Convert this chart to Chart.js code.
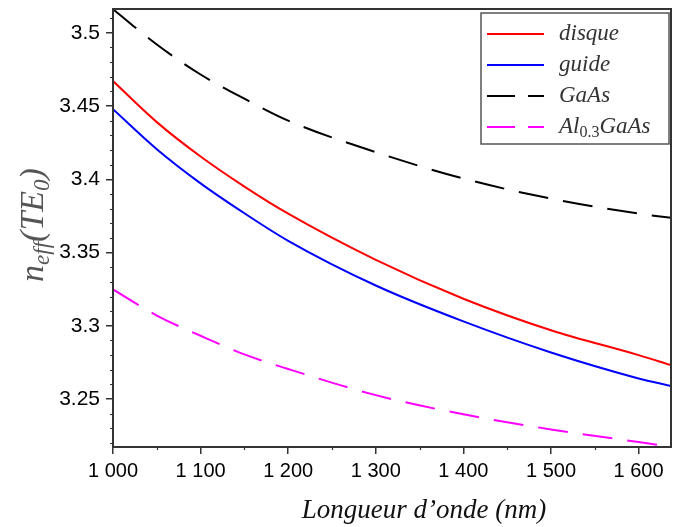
<!DOCTYPE html>
<html>
<head>
<meta charset="utf-8">
<script src="https://cdn.jsdelivr.net/npm/chart.js@4/dist/chart.umd.min.js"></script>
<style>
  html, body { margin: 0; padding: 0; background: #fff; }
  #c { display: block; }
</style>
</head>
<body>
<canvas id="c" width="673" height="527"></canvas>
<script>
// wavelengths (nm) where the curves were read
const wavelengths = [1000, 1050, 1100, 1150, 1200, 1300, 1400, 1500, 1600, 1637];

// effective index of TE0 for each structure
const disque = [3.4670, 3.4390, 3.4155, 3.3950, 3.3765, 3.3450, 3.3185, 3.2970, 3.2800, 3.2732];
const guide  = [3.4478, 3.4205, 3.3972, 3.3768, 3.3580, 3.3275, 3.3030, 3.2818, 3.2641, 3.2589];
const gaas   = [3.5160, 3.4920, 3.4715, 3.4550, 3.4400, 3.4185, 3.4005, 3.3868, 3.3766, 3.3737];
const algaas = [3.3248, 3.3070, 3.2932, 3.2805, 3.2705, 3.2527, 3.2396, 3.2293, 3.2207, 3.2175];

// tick values
const xMajorTicks = [1000, 1100, 1200, 1300, 1400, 1500, 1600];
const xMinorTicks = [1050, 1150, 1250, 1350, 1450, 1550];
const yMajorTicks = [3.25, 3.3, 3.35, 3.4, 3.45, 3.5];
const yMinorTicks = [3.22, 3.23, 3.24, 3.26, 3.27, 3.28, 3.29, 3.31, 3.32, 3.33, 3.34,
                     3.36, 3.37, 3.38, 3.39, 3.41, 3.42, 3.43, 3.44, 3.46, 3.47, 3.48, 3.49, 3.51];

// legend labels: [main, subscript, rest]
const legendParts = [
    ["disque", "", ""],
    ["guide", "", ""],
    ["GaAs", "", ""],
    ["Al", "0.3", "GaAs"]
];

function toPoints(ys) {
    return wavelengths.map((w, i) => ({ x: w, y: ys[i] }));
}

function frenchThousands(v) {
    const s = String(v);
    return s.length > 3 ? s.slice(0, s.length - 3) + " " + s.slice(-3) : s;
}

const frameColor = "#333";

// frame, minor ticks, axis titles and the legend box
const decorations = {
    id: "decorations",
    afterDraw(chart) {
        const ctx = chart.ctx;
        const a = chart.chartArea;
        const xs = chart.scales.x, ys = chart.scales.y;
        ctx.save();

        // minor ticks
        ctx.strokeStyle = frameColor;
        ctx.lineWidth = 1.2;
        ctx.beginPath();
        yMinorTicks.forEach(v => {
            const p = Math.round(ys.getPixelForValue(v)) + 0.5;
            ctx.moveTo(a.left - 3, p);
            ctx.lineTo(a.left, p);
        });
        xMinorTicks.forEach(v => {
            const p = Math.round(xs.getPixelForValue(v)) + 0.5;
            ctx.moveTo(p, a.bottom);
            ctx.lineTo(p, a.bottom + 3);
        });
        ctx.stroke();

        // frame
        ctx.lineWidth = 2;
        ctx.strokeStyle = frameColor;
        ctx.strokeRect(a.left, a.top, a.right - a.left, a.bottom - a.top);

        // x title
        ctx.fillStyle = "#111";
        ctx.font = "italic 27px 'Liberation Serif'";
        ctx.textAlign = "center";
        ctx.textBaseline = "middle";
        ctx.fillText("Longueur d\u2019onde (nm)", 424, 511);

        // y title n_eff(TE_0), rotated
        ctx.translate(43, 225);
        ctx.rotate(-Math.PI / 2);
        ctx.fillStyle = "#555";
        ctx.textAlign = "left";
        ctx.textBaseline = "alphabetic";
        const big = "italic 34px 'Liberation Serif'";
        const small = "italic 23px 'Liberation Serif'";
        const pieces = [["n", big, 0], ["eff", small, 6], ["(TE", big, 0], ["0", small, 6], [")", big, 0]];
        let total = 0;
        pieces.forEach(p => { ctx.font = p[1]; total += ctx.measureText(p[0]).width; });
        let cx = -total / 2;
        pieces.forEach(p => {
            ctx.font = p[1];
            ctx.fillText(p[0], cx, p[2]);
            cx += ctx.measureText(p[0]).width;
        });
        ctx.restore();

        // legend
        ctx.save();
        const lx = 481, ly = 13, lw = 188, lh = 131;
        ctx.fillStyle = "#fff";
        ctx.fillRect(lx, ly, lw, lh);
        ctx.strokeStyle = "#555";
        ctx.lineWidth = 1.5;
        ctx.strokeRect(lx, ly, lw, lh);
        chart.data.datasets.forEach((ds, i) => {
            const y = ly + 21 + i * 31;
            ctx.strokeStyle = ds.borderColor;
            ctx.lineWidth = 2;
            ctx.setLineDash(ds.borderDash && ds.borderDash.length ? [28, 13] : []);
            ctx.beginPath();
            ctx.moveTo(lx + 6, y);
            ctx.lineTo(lx + 63, y);
            ctx.stroke();
            ctx.setLineDash([]);

            const parts = legendParts[i];
            ctx.fillStyle = "#333";
            ctx.textBaseline = "middle";
            ctx.textAlign = "left";
            let tx = lx + 78;
            ctx.font = "italic 23px 'Liberation Serif'";
            ctx.fillText(parts[0], tx, y);
            tx += ctx.measureText(parts[0]).width;
            if (parts[1]) {
                ctx.font = "16px 'Liberation Serif'";
                ctx.fillText(parts[1], tx, y + 6);
                tx += ctx.measureText(parts[1]).width;
                ctx.font = "italic 23px 'Liberation Serif'";
                ctx.fillText(parts[2], tx, y);
            }
        });
        ctx.restore();
    }
};

const tickFont = { family: "'Liberation Sans', Arial, sans-serif", size: 21 };

new Chart(document.getElementById("c"), {
    type: "line",
    data: {
        datasets: [
            { label: "disque", data: toPoints(disque), borderColor: "#ff0000", borderWidth: 2 },
            { label: "guide", data: toPoints(guide), borderColor: "#0000ff", borderWidth: 2 },
            { label: "GaAs", data: toPoints(gaas), borderColor: "#000000", borderWidth: 2, borderDash: [30, 15] },
            { label: "Al0.3GaAs", data: toPoints(algaas), borderColor: "#ff00ff", borderWidth: 2, borderDash: [30, 15] }
        ]
    },
    options: {
        responsive: false,
        animation: false,
        layout: { padding: { top: 9, right: 2, left: 0, bottom: 0 } },
        elements: {
            point: { radius: 0 },
            line: { cubicInterpolationMode: "monotone", fill: false }
        },
        plugins: {
            legend: { display: false },
            tooltip: { enabled: false }
        },
        scales: {
            x: {
                type: "linear",
                min: 1000,
                max: 1637,
                afterBuildTicks: scale => { scale.ticks = xMajorTicks.map(v => ({ value: v })); },
                afterFit: scale => { scale.height = 80; scale.paddingLeft = 0; scale.paddingRight = 0; },
                border: { display: false },
                grid: { drawOnChartArea: false, tickLength: 7, color: frameColor, lineWidth: 1.5 },
                ticks: {
                    autoSkip: false, maxRotation: 0, padding: 5,
                    color: "#000", font: { family: "'Liberation Sans', Arial, sans-serif", size: 20 },
                    callback: v => frenchThousands(v)
                }
            },
            y: {
                min: 3.2173,
                max: 3.5162,
                afterBuildTicks: scale => { scale.ticks = yMajorTicks.map(v => ({ value: v })); },
                afterFit: scale => { scale.width = 113; scale.paddingTop = 0; scale.paddingBottom = 0; },
                border: { display: false },
                grid: { drawOnChartArea: false, tickLength: 7, color: frameColor, lineWidth: 1.5 },
                ticks: {
                    autoSkip: false, padding: 6,
                    color: "#000", font: tickFont,
                    callback: v => String(Math.round(v * 100) / 100)
                }
            }
        }
    },
    plugins: [decorations]
});
</script>
</body>
</html>
